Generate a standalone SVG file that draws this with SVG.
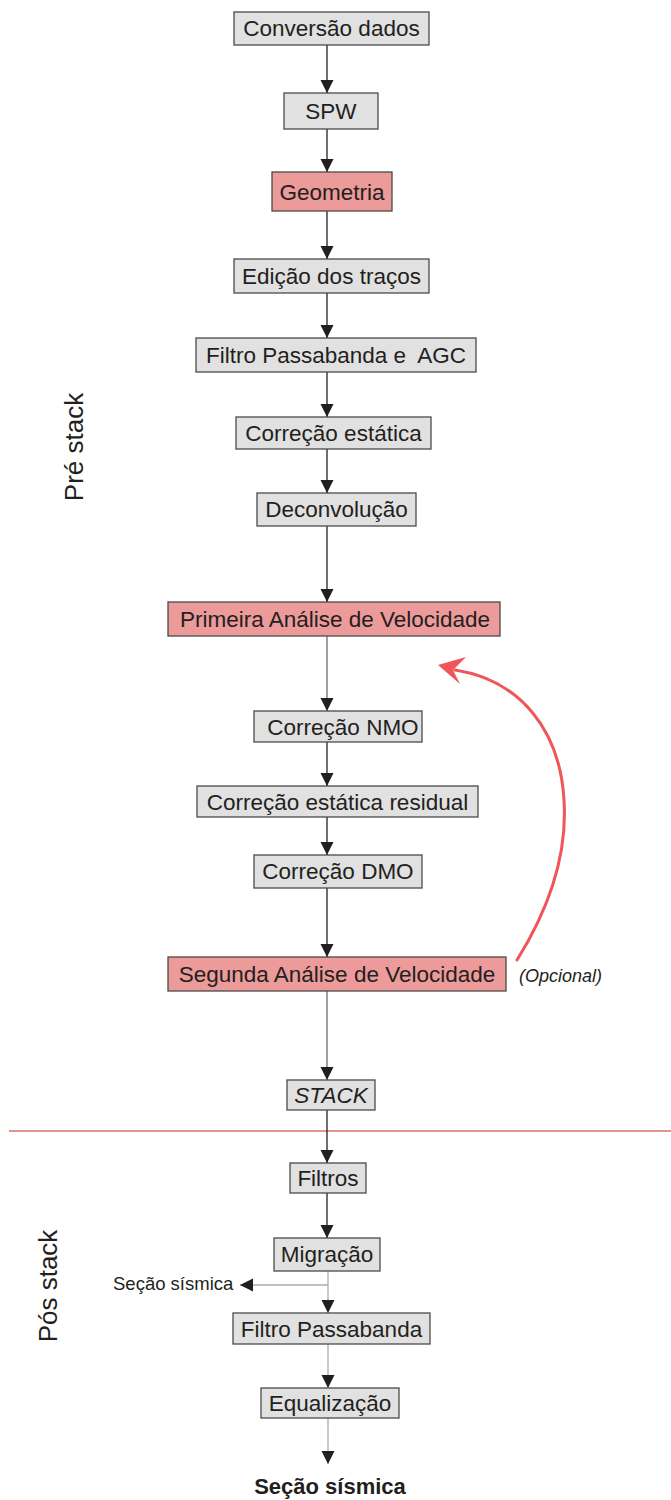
<svg xmlns="http://www.w3.org/2000/svg" width="671" height="1500" viewBox="0 0 671 1500">
  <style>
    .box { fill: #e1e1e1; stroke: #4a4a4a; stroke-width: 1.3; }
    .hot { fill: #ec9a9a; stroke: #4a4a4a; stroke-width: 1.3; }
    .lbl { font-family: "Liberation Sans", Arial, sans-serif; font-size: 22.5px; fill: #231f20; text-anchor: middle; white-space: pre; }
    .it { font-style: italic; }
    .side { font-family: "Liberation Sans", Arial, sans-serif; font-size: 26px; fill: #231f20; text-anchor: middle; }
    .note { font-family: "Liberation Sans", Arial, sans-serif; fill: #231f20; }
    .edge { fill: none; stroke: #231f20; stroke-width: 1.3; marker-end: url(#head); }
    .edge.mid { stroke: #6e6e6e; }
    .edge.soft { stroke: #ababab; }
  </style>
  <defs>
    <marker id="head" markerUnits="userSpaceOnUse" markerWidth="14" markerHeight="14" refX="13" refY="6.5" orient="auto">
      <path d="M0,0 L13,6.5 L0,13 z" fill="#231f20"/>
    </marker>
  </defs>

  <rect width="671" height="1500" fill="#ffffff"/>

  <!-- phase labels and separator -->
  <text class="side" transform="translate(83,447) rotate(-90)">Pré stack</text>
  <text class="side" transform="translate(57,1286) rotate(-90)">Pós stack</text>
  <line x1="9" y1="1131" x2="671" y2="1131" stroke="#d9706b" stroke-width="1.5"/>

  <!-- connectors -->
  <g id="connectors">
    <line class="edge" x1="327" y1="45" x2="327" y2="93"/>
    <line class="edge" x1="327" y1="129" x2="327" y2="172"/>
    <line class="edge" x1="327" y1="211" x2="327" y2="259"/>
    <line class="edge" x1="327" y1="293" x2="327" y2="338"/>
    <line class="edge" x1="327" y1="372" x2="327" y2="417"/>
    <line class="edge" x1="327" y1="449" x2="327" y2="493"/>
    <line class="edge" x1="327" y1="526" x2="327" y2="602"/>
    <line class="edge mid" x1="327" y1="636" x2="327" y2="711"/>
    <line class="edge" x1="327" y1="742" x2="327" y2="786"/>
    <line class="edge" x1="327" y1="817" x2="327" y2="855"/>
    <line class="edge" x1="327" y1="888" x2="327" y2="957"/>
    <line class="edge mid" x1="327" y1="991" x2="327" y2="1080"/>
    <line class="edge" x1="327" y1="1110" x2="327" y2="1163"/>
    <line class="edge" x1="327" y1="1193" x2="327" y2="1238"/>
    <line class="edge soft" x1="328" y1="1271" x2="328" y2="1313"/>
    <line class="edge soft" x1="328" y1="1285" x2="240" y2="1285"/>
    <line class="edge soft" x1="328" y1="1344" x2="328" y2="1388"/>
    <line class="edge soft" x1="328" y1="1418" x2="328" y2="1464"/>
    <!-- optional loop back to the first velocity analysis -->
    <path d="M517,960 C545,915 568,860 564,800 C560,730 520,680 455,670" fill="none" stroke="#f0555a" stroke-width="3" stroke-linecap="round"/>
    <polygon points="438,665 466,657 453,670 460,684" fill="#f0555a"/>
  </g>

  <!-- processing steps -->
  <g id="n1"><rect class="box" x="234" y="12" width="195" height="33"/><text class="lbl" x="331.5" y="36">Conversão dados</text></g>
  <g id="n2"><rect class="box" x="284" y="93" width="94" height="36"/><text class="lbl" x="331" y="119">SPW</text></g>
  <g id="n3"><rect class="hot" x="272" y="172" width="120" height="39"/><text class="lbl" x="332" y="199.5">Geometria</text></g>
  <g id="n4"><rect class="box" x="234" y="259" width="195" height="34"/><text class="lbl" x="331.5" y="284">Edição dos traços</text></g>
  <g id="n5"><rect class="box" x="196" y="338" width="280" height="34"/><text class="lbl" x="336" y="363">Filtro Passabanda e  AGC</text></g>
  <g id="n6"><rect class="box" x="236" y="417" width="195" height="32"/><text class="lbl" x="333.5" y="441">Correção estática</text></g>
  <g id="n7"><rect class="box" x="257" y="493" width="159" height="33"/><text class="lbl" x="336.5" y="517">Deconvolução</text></g>
  <g id="n8"><rect class="hot" x="168" y="602" width="332" height="34"/><text class="lbl" x="335" y="627">Primeira Análise de Velocidade</text></g>
  <g id="n9"><rect class="box" x="254" y="711" width="168" height="31"/><text class="lbl" x="343" y="735">Correção NMO</text></g>
  <g id="n10"><rect class="box" x="197" y="786" width="281" height="31"/><text class="lbl" x="337.5" y="809.5">Correção estática residual</text></g>
  <g id="n11"><rect class="box" x="254" y="855" width="168" height="33"/><text class="lbl" x="338" y="879">Correção DMO</text></g>
  <g id="n12"><rect class="hot" x="168" y="957" width="338" height="34"/><text class="lbl" x="337" y="982">Segunda Análise de Velocidade</text></g>
  <text class="note it" x="519" y="982" font-size="18">(Opcional)</text>
  <g id="n13"><rect class="box" x="287" y="1080" width="88" height="30"/><text class="lbl it" x="331" y="1103">STACK</text></g>
  <g id="n14"><rect class="box" x="290" y="1163" width="76" height="30"/><text class="lbl" x="328" y="1186">Filtros</text></g>
  <g id="n15"><rect class="box" x="274" y="1238" width="106" height="33"/><text class="lbl" x="327" y="1262">Migração</text></g>
  <text class="note" x="113" y="1290" font-size="18.5">Seção sísmica</text>
  <g id="n16"><rect class="box" x="233" y="1313" width="197" height="31"/><text class="lbl" x="331.5" y="1336.5">Filtro Passabanda</text></g>
  <g id="n17"><rect class="box" x="261" y="1388" width="138" height="30"/><text class="lbl" x="330" y="1411">Equalização</text></g>
  <g id="n18"><text class="lbl" x="330" y="1494" font-weight="bold" style="font-size:22px">Seção sísmica</text></g>
</svg>
